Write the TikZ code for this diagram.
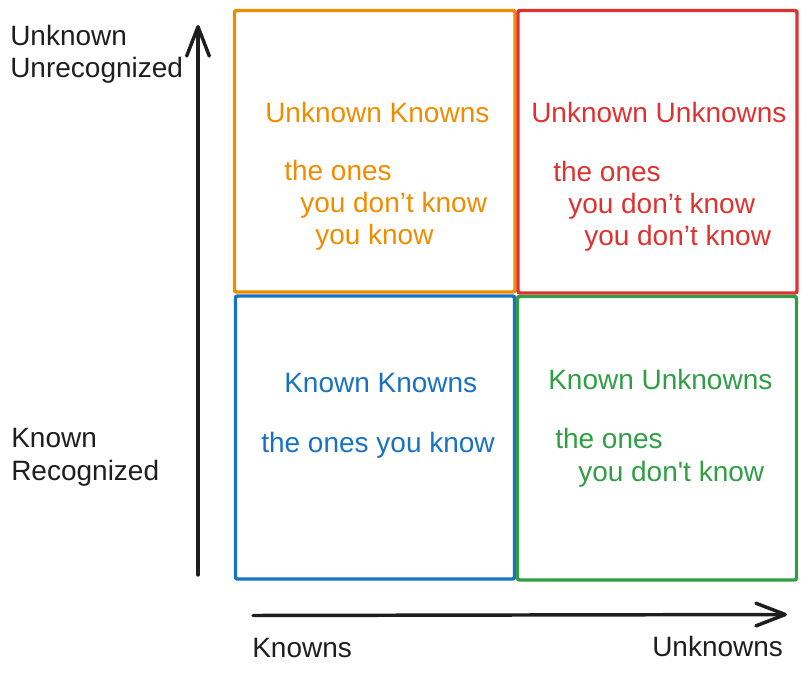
\documentclass[tikz,border=0pt]{standalone}
\usepackage{fontspec}
\setmainfont{Liberation Sans}[Ligatures=TeXOff]
\usetikzlibrary{arrows.meta}
\definecolor{ink}{HTML}{1E1E1E}
\definecolor{qorange}{HTML}{F08C00}
\definecolor{qred}{HTML}{E03131}
\definecolor{qblue}{HTML}{1971C2}
\definecolor{qgreen}{HTML}{2F9E44}
\begin{document}
\begin{tikzpicture}[x=0.75pt,y=-0.75pt,
  quad/.style={draw=#1, line width=2.6pt, rounded corners=1.5pt, inner sep=0pt},
  txt/.style={text=#1, anchor=base west, inner sep=0pt, font=\fontsize{21}{24}\selectfont},
  axis/.style={draw=ink, line width=2.6pt, line cap=round, line join=round,
    -{Straight Barb[length=22pt,width=17pt,line cap=round,line join=round]}}]
\useasboundingbox (0,0) rectangle (807,673);
% the four quadrants
\draw[quad=qorange] (234.5,10.5) rectangle (515,292) node[coordinate] (uk) {};
\draw[quad=qred]    (518,10.5) rectangle (797,293) node[coordinate] (uu) {};
\draw[quad=qblue]   (235.5,296) rectangle (514.5,579) node[coordinate] (kk) {};
\draw[quad=qgreen]  (517.5,296.5) rectangle (796.5,580) node[coordinate] (ku) {};
% quadrant texts
\node[txt=qorange] (ukT)  at (265,123) {Unknown Knowns};
\node[txt=qorange] (ukA)  at (284,181) {the ones};
\node[txt=qorange] (ukB)  at (300,213) {you don’t know};
\node[txt=qorange] (ukC)  at (315,245) {you know};
\node[txt=qred] (uuT) at (531,123) {Unknown Unknowns};
\node[txt=qred] (uuA) at (553,182) {the ones};
\node[txt=qred] (uuB) at (568,214) {you don’t know};
\node[txt=qred] (uuC) at (584,246) {you don’t know};
\node[txt=qblue] (kkT) at (284,393) {Known Knowns};
\node[txt=qblue] (kkA) at (261,453) {the ones you know};
\node[txt=qgreen] (kuT) at (548,390) {Known Unknowns};
\node[txt=qgreen] (kuA) at (555,449) {the ones};
\node[txt=qgreen] (kuB) at (578,482) {you don't know};
% axis labels
\node[txt=ink] (yTopA) at (10,46) {Unknown};
\node[txt=ink] (yTopB) at (10,78) {Unrecognized};
\node[txt=ink] (yBotA) at (11,448) {Known};
\node[txt=ink] (yBotB) at (11,480) {Recognized};
\node[txt=ink] (xLeft)  at (252,657) {Knowns};
\node[txt=ink] (xRight) at (652,656) {Unknowns};
% axes
\coordinate (yFrom) at (198,575);
\coordinate (yTo)   at (198,25);
\coordinate (xFrom) at (253,615.5);
\coordinate (xTo)   at (787,614.5);
\draw[axis] (yFrom) -- (yTo);
\draw[axis] (xFrom) -- (xTo);
\end{tikzpicture}
\end{document}
